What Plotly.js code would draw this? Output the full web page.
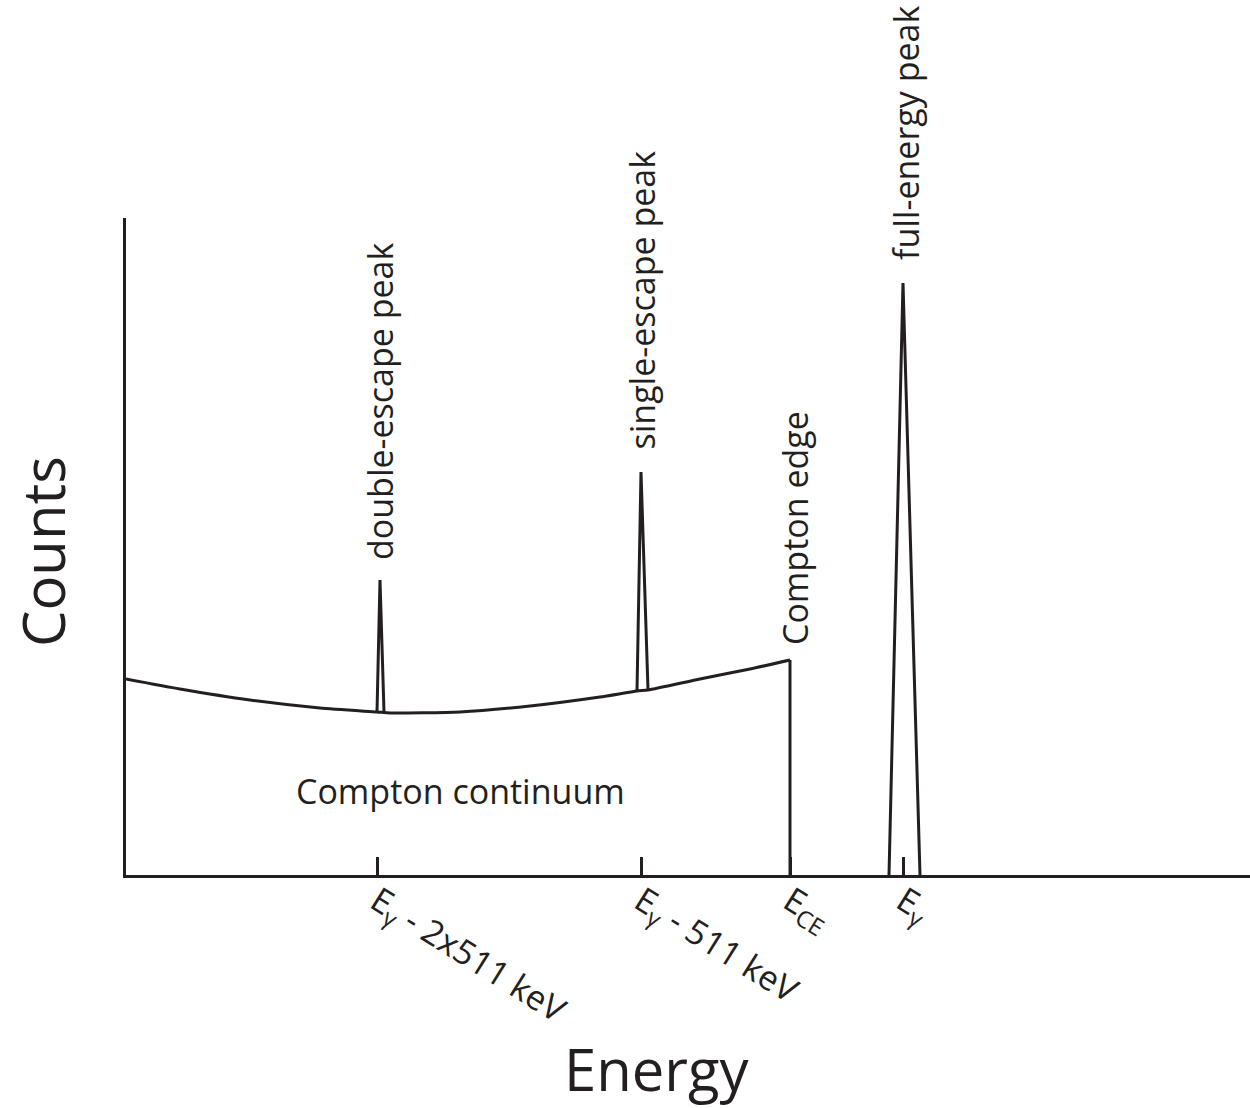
<!DOCTYPE html>
<html>
<head>
<meta charset="utf-8">
<script src="https://cdn.plot.ly/plotly-3.0.1.min.js"></script>
<style>html,body{margin:0;padding:0;background:#fff;}#chart{width:1250px;height:1108px;}</style>
</head>
<body>
<div id="chart"></div>
<script>
// Energy (arbitrary units) and counts (arbitrary units)
const continuumE = [0, 54, 124, 194, 251, 264, 334, 404, 474, 511, 522, 574, 624, 664];
const continuumC = [196, 186, 175, 167, 163, 162, 163, 169, 178, 184, 185, 196, 206, 215];
const edgeE = [664, 664];
const edgeC = [215, 0];
const doubleEscE = [251, 254, 258];
const doubleEscC = [163, 295, 163];
const singleEscE = [511, 515, 522];
const singleEscC = [184, 403, 185];
const fullE = [763, 777, 794];
const fullC = [0, 592, 0];
const tickE = [251, 515, 664, 777];
const tickLabels = ['E<sub>γ</sub> - 2x511 keV', 'E<sub>γ</sub> - 511 keV', 'E<sub>CE</sub>', 'E<sub>γ</sub>'];
const peakLabels = ['double-escape peak', 'single-escape peak', 'Compton edge', 'full-energy peak'];
const peakLabelE = [254, 515, 669, 780];
const peakLabelC = [313, 423, 228, 613];

const ink = '#231f20';
const font = 'Open Sans, sans-serif';
const lineStyle = {color: ink, width: 3};

const traces = [
  {x: continuumE, y: continuumC, mode: 'lines', line: Object.assign({shape: 'spline', smoothing: 0.6}, lineStyle), hoverinfo: 'skip'},
  {x: edgeE, y: edgeC, mode: 'lines', line: lineStyle, hoverinfo: 'skip'},
  {x: doubleEscE, y: doubleEscC, mode: 'lines', line: lineStyle, hoverinfo: 'skip'},
  {x: singleEscE, y: singleEscC, mode: 'lines', line: lineStyle, hoverinfo: 'skip'},
  {x: fullE, y: fullC, mode: 'lines', line: lineStyle, hoverinfo: 'skip'}
];

const annotations = peakLabels.map((t, i) => ({
  text: t, x: peakLabelE[i], y: peakLabelC[i], xref: 'x', yref: 'y',
  textangle: -90, xanchor: 'center', yanchor: 'bottom', showarrow: false,
  font: {family: font, size: 34, color: ink}
}));
annotations.push({text: 'Compton continuum', x: 334, y: 84, xref: 'x', yref: 'y', showarrow: false,
  xanchor: 'center', yanchor: 'middle', font: {family: font, size: 34, color: ink}});
annotations.push({text: 'Counts', x: -0.0747, y: 0.4916, xref: 'paper', yref: 'paper', showarrow: false,
  textangle: -90, xanchor: 'center', yanchor: 'middle', font: {family: font, size: 58, color: ink}});
annotations.push({text: 'Energy', x: 0.4724, y: -0.2938, xref: 'paper', yref: 'paper', showarrow: false,
  xanchor: 'center', yanchor: 'middle', font: {family: font, size: 58, color: ink}});

const layout = {
  width: 1250, height: 1108,
  margin: {l: 126, r: 0, t: 218, b: 233, pad: 0},
  paper_bgcolor: '#fff', plot_bgcolor: '#fff',
  showlegend: false,
  xaxis: {range: [0, 1124], showgrid: false, zeroline: false, showline: true, linecolor: ink, linewidth: 3,
    tickmode: 'array', tickvals: tickE, ticktext: tickLabels, ticks: 'inside', ticklen: 18, tickwidth: 3, tickcolor: ink,
    tickangle: 32, ticklabelstandoff: -10, tickfont: {family: font, size: 34, color: ink}, fixedrange: true},
  yaxis: {range: [0, 657], showgrid: false, zeroline: false, showline: true, linecolor: ink, linewidth: 3,
    showticklabels: false, ticks: '', fixedrange: true},
  annotations: annotations
};

Plotly.newPlot('chart', traces, layout, {displayModeBar: false, staticPlot: true});
</script>
</body>
</html>
